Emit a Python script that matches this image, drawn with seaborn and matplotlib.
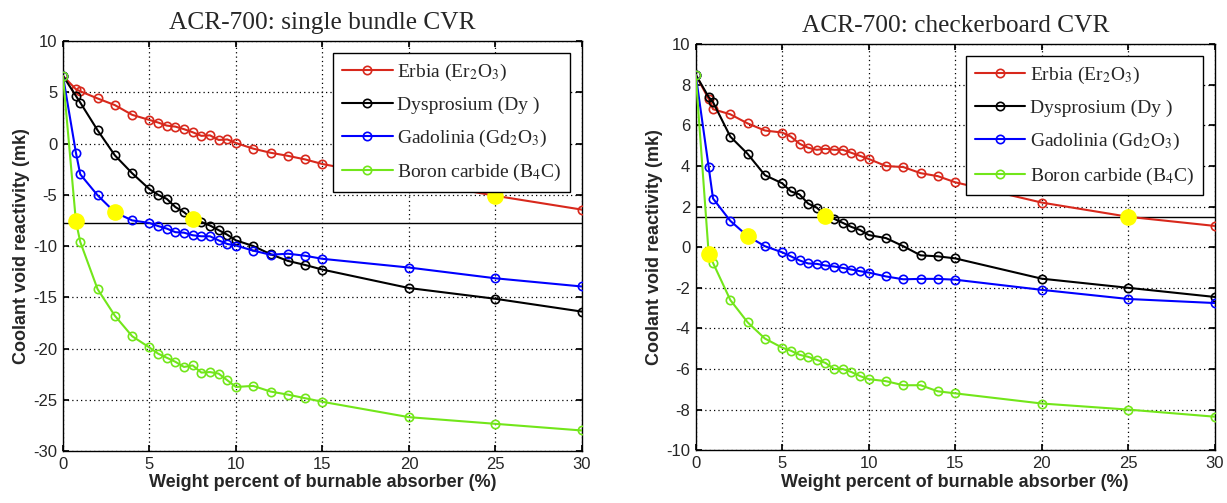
import matplotlib
matplotlib.use("Agg")
import matplotlib.pyplot as plt
import seaborn as sns

# weight percent of burnable absorber
wt = [0, 0.75, 1, 2, 3, 4, 5, 5.5, 6, 6.5, 7, 7.5, 8, 8.5, 9, 9.5, 10, 11, 12, 13, 14, 15, 20, 25, 30]

# single bundle CVR (mk)
er_single = [6.6, 5.3, 5.1, 4.4, 3.75, 2.8, 2.3, 2.05, 1.75, 1.65, 1.4, 1.1, 0.75, 0.8, 0.35, 0.4, 0.05,
             -0.5, -0.9, -1.2, -1.55, -2.0, -3.6, -5.1, -6.45]
dy_single = [6.6, 4.65, 4.0, 1.3, -1.15, -2.9, -4.45, -5.0, -5.4, -6.2, -6.7, -7.4, -7.65, -8.0, -8.45, -8.9,
             -9.45, -10.0, -10.8, -11.45, -11.85, -12.3, -14.1, -15.15, -16.4]
gd_single = [6.6, -0.9, -3.0, -5.05, -6.7, -7.5, -7.75, -8.05, -8.3, -8.65, -8.7, -8.95, -9.05, -9.05, -9.45,
             -9.8, -9.95, -10.45, -10.85, -10.75, -10.95, -11.25, -12.1, -13.15, -13.95]
b4c_single = [6.6, -7.6, -9.6, -14.2, -16.8, -18.8, -19.9, -20.5, -20.9, -21.3, -21.8, -21.65, -22.35, -22.3,
              -22.45, -23.1, -23.75, -23.65, -24.2, -24.5, -24.85, -25.2, -26.7, -27.35, -28.0]

# checkerboard CVR (mk)
er_check = [8.5, 7.3, 6.8, 6.55, 6.1, 5.75, 5.65, 5.45, 5.1, 4.9, 4.8, 4.85, 4.8, 4.8, 4.65, 4.5, 4.35,
            4.0, 3.95, 3.65, 3.5, 3.2, 2.2, 1.5, 1.05]
dy_check = [8.5, 7.4, 7.15, 5.45, 4.6, 3.55, 3.15, 2.75, 2.6, 2.15, 1.95, 1.55, 1.4, 1.2, 1.0, 0.85, 0.6,
            0.45, 0.05, -0.4, -0.45, -0.55, -1.55, -2.0, -2.45]
gd_check = [8.5, 3.95, 2.4, 1.3, 0.55, 0.05, -0.25, -0.45, -0.65, -0.8, -0.82, -0.9, -0.95, -1.02, -1.1,
            -1.18, -1.25, -1.44, -1.58, -1.56, -1.56, -1.6, -2.1, -2.55, -2.75]
b4c_check = [8.5, -0.33, -0.77, -2.6, -3.7, -4.5, -4.95, -5.1, -5.3, -5.4, -5.55, -5.7, -6.0, -6.0, -6.15,
             -6.35, -6.5, -6.6, -6.8, -6.8, -7.1, -7.2, -7.7, -8.0, -8.35]

labels = ["Erbia (Er$_2$O$_3$)", "Dysprosium (Dy )", "Gadolinia (Gd$_2$O$_3$)", "Boron carbide (B$_4$C)"]
colors = ["#d8281c", "black", "#0000ff", "#72e61a"]
# highlighted point (yellow) for each absorber
mark_wt = [25, 7.5, 3, 0.75]

ref_single = -7.75
ref_check = 1.5

sns.set_theme(style="white")
plt.rcParams["font.family"] = ["Liberation Sans", "DejaVu Sans"]
plt.rcParams["mathtext.fontset"] = "stix"
plt.rcParams["axes.unicode_minus"] = False

fig = plt.figure(figsize=(12.27, 5.03), dpi=100)
ax1 = fig.add_axes([0.0513, 0.1034, 0.423, 0.815])
ax2 = fig.add_axes([0.567, 0.105, 0.423, 0.807])

panels = [
    (ax1, [er_single, dy_single, gd_single, b4c_single], ref_single,
     "ACR-700: single bundle CVR", (-30, 10), range(-30, 11, 5)),
    (ax2, [er_check, dy_check, gd_check, b4c_check], ref_check,
     "ACR-700: checkerboard CVR", (-10, 10), range(-10, 11, 2)),
]

for ax, series, ref, title, ylim, yticks in panels:
    ax.axhline(ref, color="black", lw=1.0, zorder=1)
    for vals, lab, c in zip(series, labels, colors):
        sns.lineplot(x=wt, y=vals, ax=ax, color=c, lw=1.5, marker="o", markersize=6,
                     markerfacecolor="none", markeredgecolor=c, markeredgewidth=1.2,
                     label=lab, zorder=3)
    for vals, mx in zip(series, mark_wt):
        i = wt.index(mx)
        ax.plot(wt[i], vals[i], "o", color="#ffff00", markersize=11, zorder=4)
    ax.set_xlim(0, 30)
    ax.set_ylim(*ylim)
    ax.set_xticks(range(0, 31, 5))
    ax.set_yticks(list(yticks))
    ax.grid(True, color="black", linestyle=(0, (1, 2.5)), lw=0.9)
    ax.tick_params(direction="in", top=True, right=True, labelsize=12, length=4, color="black",
                   pad=4, left=True, bottom=True)
    for s in ax.spines.values():
        s.set_color("black")
        s.set_linewidth(1.0)
    ax.set_title(title, fontsize=18.3, family=["Liberation Serif"], pad=9)
    ax.set_xlabel("Weight percent of burnable absorber (%)", fontsize=13, fontweight="bold", labelpad=2)
    ax.set_ylabel("Coolant void reactivity (mk)", fontsize=13, fontweight="bold", labelpad=2)
    leg = ax.legend(loc="upper right", frameon=True, fancybox=False, numpoints=1,
                    handlelength=2.6, handletextpad=0.25, borderpad=0.45, labelspacing=0.7,
                    borderaxespad=0.6, prop={"family": "Liberation Serif", "size": 14})
    leg.get_frame().set_edgecolor("black")
    leg.get_frame().set_linewidth(1.0)
    leg.get_frame().set_alpha(1)

fig.savefig("out.png", dpi=100)
